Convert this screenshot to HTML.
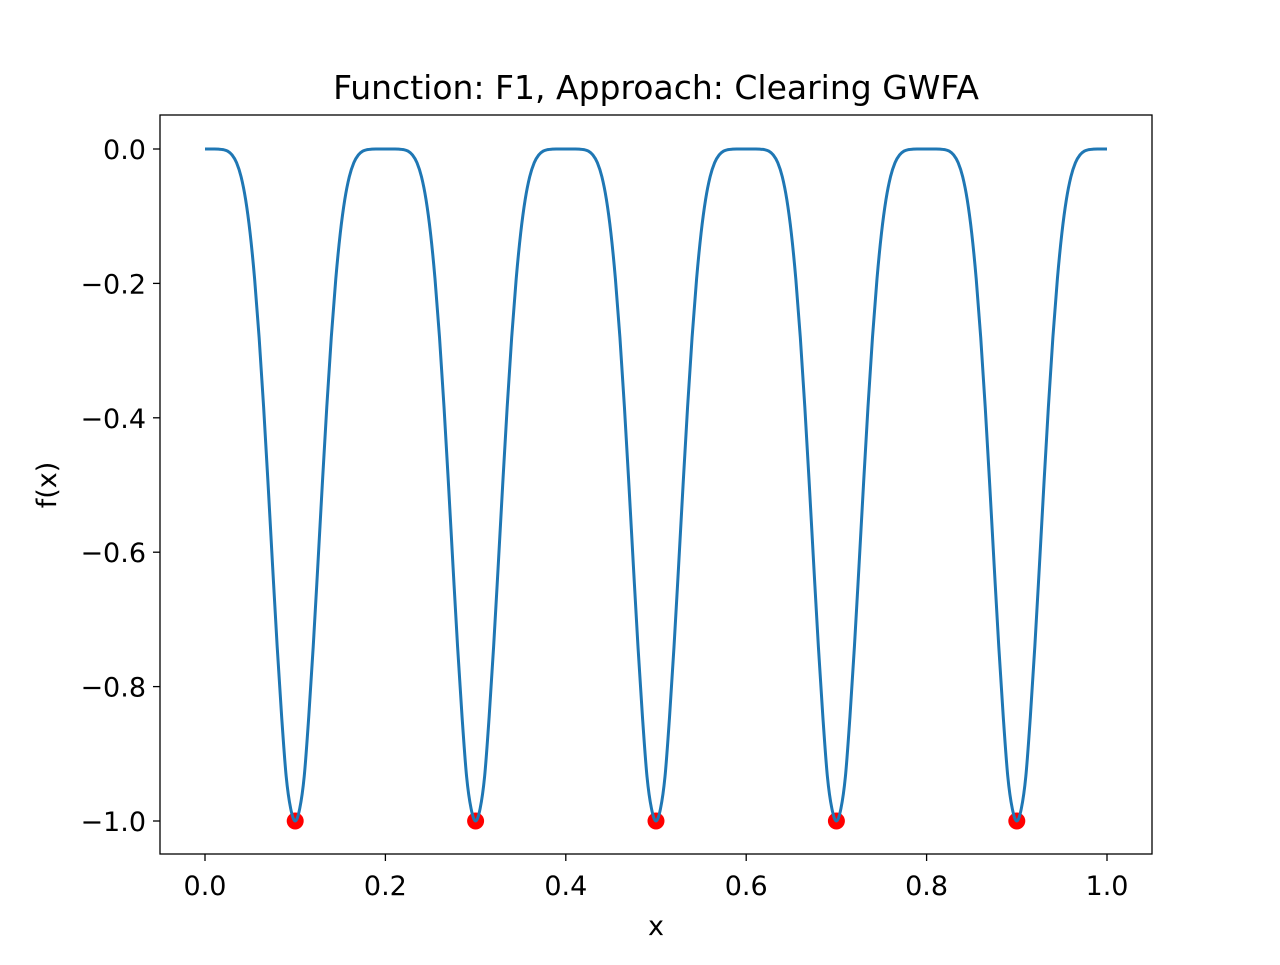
<!DOCTYPE html>
<html><head><meta charset="utf-8"><style>
body{margin:0;background:#fff;}
svg text{font-family:"DejaVu Sans","Liberation Sans",sans-serif;fill:#000;}
</style></head><body>
<svg id="chart" width="1280" height="960" xmlns="http://www.w3.org/2000/svg">
<rect width="1280" height="960" fill="#fff"/>
<text x="656" y="99" style="font-size:33px" text-anchor="middle">Function: F1, Approach: Clearing GWFA</text>
<g id="plot"></g>
<rect x="160" y="115" width="992" height="739" fill="none" stroke="#000" stroke-width="1.3"/>
<text x="656" y="935" style="font-size:27px" text-anchor="middle">x</text>
<text x="56" y="485" style="font-size:27px" text-anchor="middle" transform="rotate(-90 56 485)">f(x)</text>
</svg>
<script>
const xTicks=[0,0.2,0.4,0.6,0.8,1.0];
const xTickLabels=["0.0","0.2","0.4","0.6","0.8","1.0"];
const yTicks=[0,-0.2,-0.4,-0.6,-0.8,-1.0];
const yTickLabels=["0.0","\u22120.2","\u22120.4","\u22120.6","\u22120.8","\u22121.0"];
const curveX0=0, curveStep=0.005;
const curveValues=[
0,0,0,-.0002,-.0009,-.0031,-.0088,-.0203,-.0412,-.075,-.125,-.1933,-.2804,-.3842,-.5004,-.6219,-.74,-.8452,-.9336,-.9816,-1,-.9816,-.9336,-.8452,-.74,-.6219,-.5004,-.3842,-.2804,-.1933,-.125,-.075,-.0412,-.0203,-.0088,-.0031,-.0009,-.0002,0,0,
0,0,0,-.0002,-.0009,-.0031,-.0088,-.0203,-.0412,-.075,-.125,-.1933,-.2804,-.3842,-.5004,-.6219,-.74,-.8452,-.9336,-.9816,-1,-.9816,-.9336,-.8452,-.74,-.6219,-.5004,-.3842,-.2804,-.1933,-.125,-.075,-.0412,-.0203,-.0088,-.0031,-.0009,-.0002,0,0,
0,0,0,-.0002,-.0009,-.0031,-.0088,-.0203,-.0412,-.075,-.125,-.1933,-.2804,-.3842,-.5004,-.6219,-.74,-.8452,-.9336,-.9816,-1,-.9816,-.9336,-.8452,-.74,-.6219,-.5004,-.3842,-.2804,-.1933,-.125,-.075,-.0412,-.0203,-.0088,-.0031,-.0009,-.0002,0,0,
0,0,0,-.0002,-.0009,-.0031,-.0088,-.0203,-.0412,-.075,-.125,-.1933,-.2804,-.3842,-.5004,-.6219,-.74,-.8452,-.9336,-.9816,-1,-.9816,-.9336,-.8452,-.74,-.6219,-.5004,-.3842,-.2804,-.1933,-.125,-.075,-.0412,-.0203,-.0088,-.0031,-.0009,-.0002,0,0,
0,0,0,-.0002,-.0009,-.0031,-.0088,-.0203,-.0412,-.075,-.125,-.1933,-.2804,-.3842,-.5004,-.6219,-.74,-.8452,-.9336,-.9816,-1,-.9816,-.9336,-.8452,-.74,-.6219,-.5004,-.3842,-.2804,-.1933,-.125,-.075,-.0412,-.0203,-.0088,-.0031,-.0009,-.0002,0,0,
0];
const pointsX=[0.1,0.3,0.5,0.7,0.9];
const pointsY=[-1,-1,-1,-1,-1];

const NS="http://www.w3.org/2000/svg";
const g=document.getElementById('plot');
function sx(v){return 205+v*902;}
function sy(v){return 149-v*672;}
function mk(t,a){const e=document.createElementNS(NS,t);for(const k in a)e.setAttribute(k,a[k]);g.appendChild(e);return e;}
xTicks.forEach((v,i)=>{
  const l=mk('line',{x1:sx(v),x2:sx(v),y1:854,y2:861,stroke:'#000','stroke-width':1.3});
  
  
  const t=mk('text',{x:sx(v),y:895,'text-anchor':'middle',style:'font-size:27px'});
  t.textContent=xTickLabels[i];
  
  
});
yTicks.forEach((v,i)=>{
  const l=mk('line',{x1:153,x2:160,y1:sy(v),y2:sy(v),stroke:'#000','stroke-width':1.3});
  
  
  const t=mk('text',{x:146,y:sy(v)+10,'text-anchor':'end',style:'font-size:27px'});
  t.textContent=yTickLabels[i];
  
  
});
// Catmull-Rom smoothing through data points
const P=curveValues.map((v,i)=>[sx(curveX0+i*curveStep),sy(v)]);
let d='M'+P[0][0].toFixed(2)+','+P[0][1].toFixed(2);
for(let i=0;i<P.length-1;i++){
  const p0=P[Math.max(0,i-1)],p1=P[i],p2=P[i+1],p3=P[Math.min(P.length-1,i+2)];
  const c1=[p1[0]+(p2[0]-p0[0])/6,p1[1]+(p2[1]-p0[1])/6];
  const c2=[p2[0]-(p3[0]-p1[0])/6,p2[1]-(p3[1]-p1[1])/6];
  d+=' C'+c1[0].toFixed(2)+','+c1[1].toFixed(2)+' '+c2[0].toFixed(2)+','+c2[1].toFixed(2)+' '+p2[0].toFixed(2)+','+p2[1].toFixed(2);
}
const pl=mk('path',{d:d,fill:'none',stroke:'#1f77b4','stroke-width':3,'stroke-linejoin':'round'});


pointsX.forEach((v,i)=>{
  const c=mk('circle',{cx:sx(v),cy:sy(pointsY[i]),r:8.5,fill:'#ff0000'});
  
  
});
g.appendChild(pl);
</script>
</body></html>
